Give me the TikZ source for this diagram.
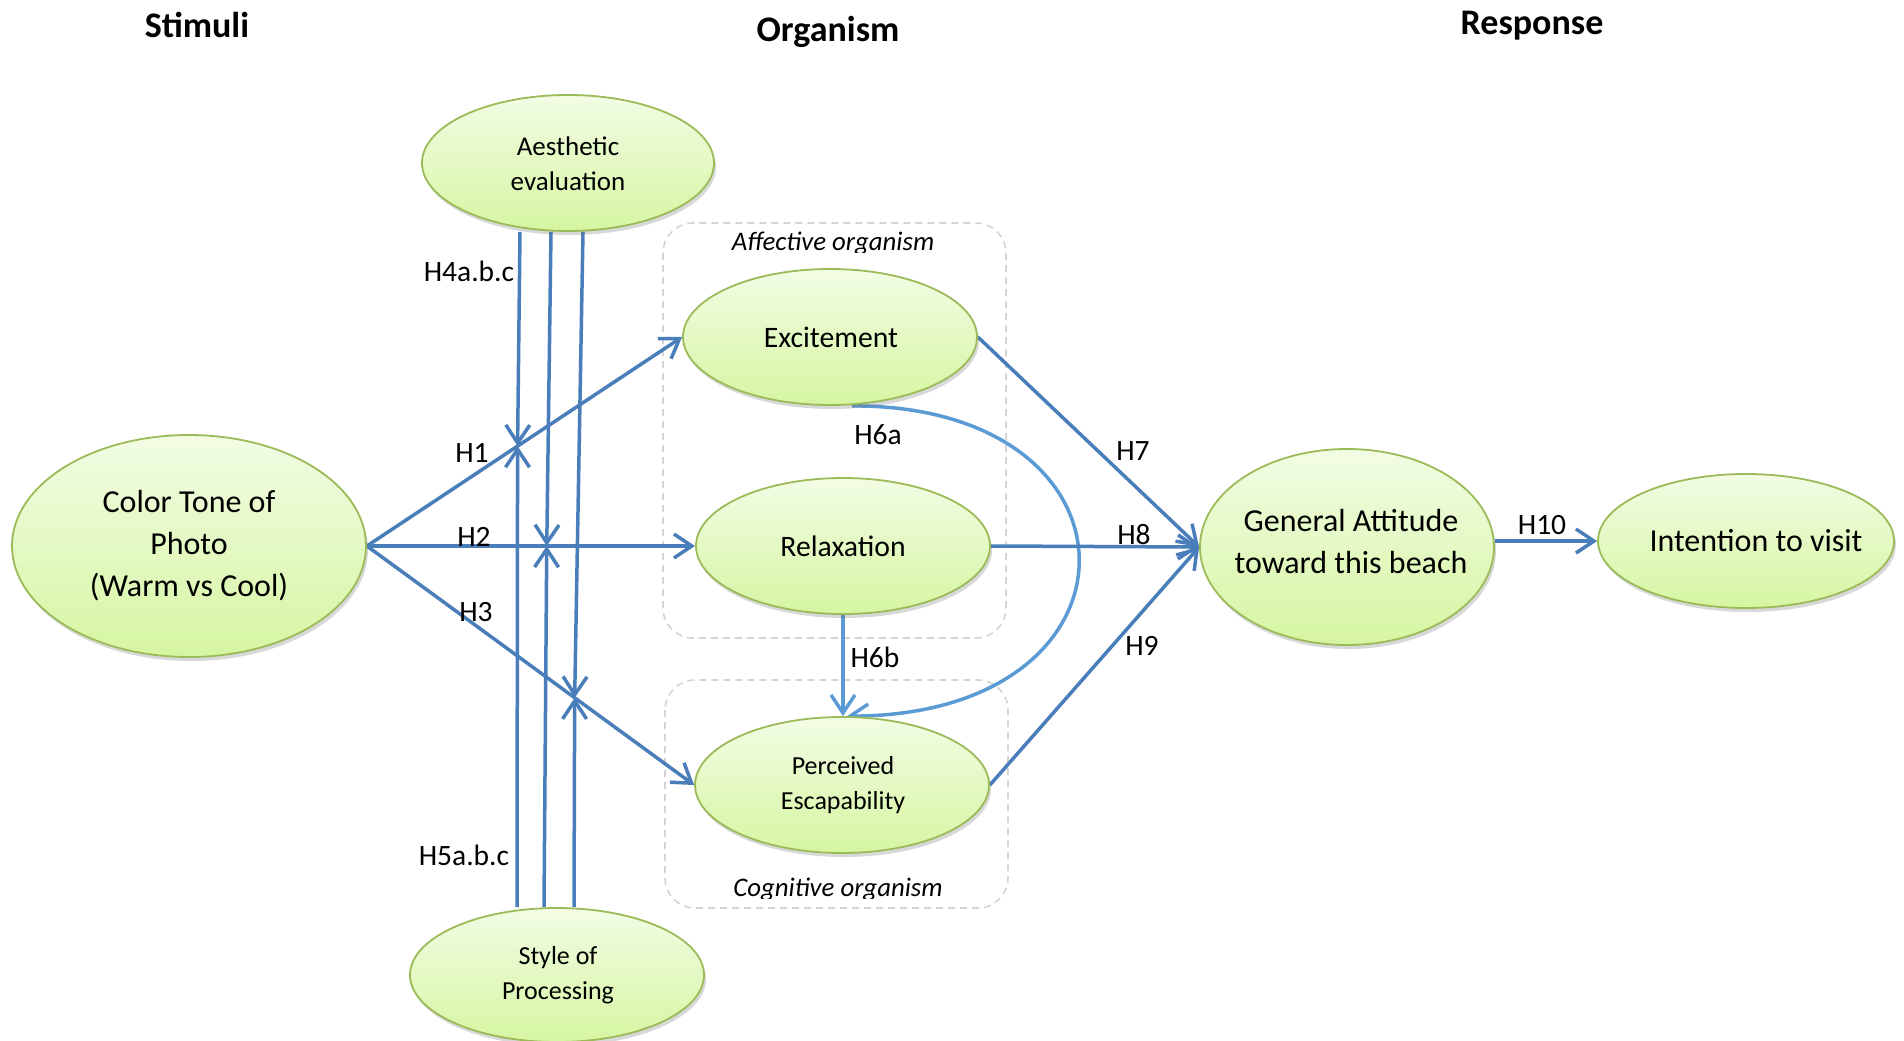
\documentclass[tikz,border=0pt]{standalone}
\usepackage{fontspec}
\setmainfont{Carlito}
\usetikzlibrary{shapes.geometric,arrows.meta,shadows,calc}
\definecolor{conn}{RGB}{74,126,187}
\definecolor{connlight}{RGB}{91,155,213}
\definecolor{ellborder}{RGB}{155,187,89}
\definecolor{elltop}{RGB}{242,252,228}
\definecolor{ellbot}{RGB}{214,246,162}
\definecolor{boxgray}{RGB}{212,212,212}
\pgfdeclarelayer{bg}
\pgfdeclarelayer{paper}
\pgfsetlayers{paper,bg,main}
\tikzset{
  ell/.style={ellipse, draw=ellborder, line width=1.8pt, top color=elltop, bottom color=ellbot, inner sep=0pt,
    drop shadow={shadow xshift=2pt, shadow yshift=-4pt, opacity=0.25, fill=black!60}},
  etxt/.style={align=center, inner sep=0pt},
  fs26/.style={font=\fontsize{26}{35}\selectfont},
  fs27/.style={font=\fontsize{27}{35}\selectfont},
  fs30/.style={font=\fontsize{29.7}{34}\selectfont},
  fs32/.style={font=\fontsize{32}{42}\selectfont},
  hlab/.style={font=\fontsize{29.5}{32}\selectfont, inner sep=1pt},
  ttl/.style={font=\fontsize{36}{40}\selectfont\bfseries},
  grp/.style={draw=boxgray, line width=1.6pt, rounded corners=30pt, dash pattern=on 7pt off 5pt},
  grplab/.style={font=\fontsize{26.8}{30}\selectfont\itshape, anchor=base},
  cn/.style={draw=conn, line width=3.5pt, -{Straight Barb[length=18pt,width=24pt,line width=3.5pt]}},
  cnl/.style={draw=connlight, line width=3.5pt, -{Straight Barb[length=18pt,width=24pt,line width=3.5pt]}},
}
\begin{document}
\begin{tikzpicture}[x=1pt,y=-1pt]
\useasboundingbox (0,0) rectangle (1904,1041);
\begin{pgfonlayer}{paper}
\fill[white] (0,0) rectangle (1904,1041);
\end{pgfonlayer}

% titles
\node[ttl] (tstim) at (197,25) {Stimuli};
\node[ttl] (torg) at (828,32) {Organism};
\node[ttl] (tresp) at (1532,26) {Response};

% group boxes
\begin{pgfonlayer}{paper}
\draw[grp] (663,223) rectangle (1006,638);
\draw[grp] (665,680) rectangle (1008,908);
\end{pgfonlayer}
\begin{scope}
\clip (680,215) rectangle (990,252.5);
\node[grplab] (laff) at (833,250) {Affective organism};
\end{scope}
\begin{scope}
\clip (680,870) rectangle (990,898.5);
\node[grplab] (lcog) at (838,896) {Cognitive organism};
\end{scope}

% ellipses
\node[ell, minimum width=354pt, minimum height=222pt] (cl) at (189,546) {};
\node[ell, minimum width=292pt, minimum height=136pt] (ae) at (568,163) {};
\node[ell, minimum width=294pt, minimum height=136pt] (exc) at (830,337) {};
\node[ell, minimum width=294pt, minimum height=136pt] (rel) at (843,546) {};
\node[ell, minimum width=294pt, minimum height=136pt] (pe) at (842,785) {};
\node[ell, minimum width=294pt, minimum height=134pt] (sp) at (557,975) {};
\node[ell, minimum width=294pt, minimum height=196pt] (ga) at (1347,547) {};
\node[ell, minimum width=296pt, minimum height=134pt] (iv) at (1746,541) {};

\node[etxt, fs32] (cl-t) at (189,546) {Color Tone of\\Photo\\(Warm vs Cool)};
\node[etxt, fs27] (ae-t) at (568,164) {Aesthetic\\evaluation};
\node[etxt, fs30] (exc-t) at (831,337) {Excitement};
\node[etxt, fs30] (rel-t) at (843,546) {Relaxation};
\node[etxt, fs26] (pe-t) at (843,785) {Perceived\\Escapability};
\node[etxt, fs26] (sp-t) at (558,975) {Style of\\Processing};
\node[etxt, fs32] (ga-t) at (1351,542) {General Attitude\\toward this beach};
\node[etxt, fs32] (iv-t) at (1756,541) {Intention to visit};

% crossing points
\coordinate (m1) at ($(cl.east)!0.478!(exc.west)$);
\coordinate (m2) at ($(cl.east)!0.548!(rel.west)$);
\coordinate (m3) at ($(cl.east)!0.635!(pe.west)$);
\coordinate (c6a1) at (1155,405);
\coordinate (c6a2) at (1155,716);

\begin{pgfonlayer}{bg}
\path[cn] (cl.east) -- (exc.west);
\path[cn] (cl.east) -- (rel.west);
\path[cn] (cl.east) -- (pe.west);
\path[cn] ([xshift=-48pt]ae.south) -- (m1);
\path[cn] ([xshift=-17pt]ae.south) -- (m2);
\path[cn] ([xshift=15pt]ae.south) -- (m3);
\path[cn] ([xshift=-40pt]sp.north) -- (m1);
\path[cn] ([xshift=-13pt]sp.north) -- (m2);
\path[cn] ([xshift=17pt]sp.north) -- (m3);
\path[cnl] ([xshift=22pt]exc.south) .. controls (c6a1) and (c6a2) .. ([xshift=5pt]pe.north);
\path[cnl] (rel.south) -- (rel.south |- pe.north);
\path[cn] (exc.east) -- (ga.west);
\path[cn] (rel.east) -- (ga.west);
\path[cn] (pe.east) -- (ga.west);
\path[cn] (ga.east |- iv.west) -- (iv.west);
\end{pgfonlayer}

% hypothesis labels
\node[hlab] (h4) at (469,271) {H4a.b.c};
\node[hlab] (h1) at (472,453) {H1};
\node[hlab] (h2) at (474,537) {H2};
\node[hlab] (h3) at (476,612) {H3};
\node[hlab] (h5) at (464,855) {H5a.b.c};
\node[hlab] (h6a) at (878,435) {H6a};
\node[hlab] (h6b) at (875,657) {H6b};
\node[hlab] (h7) at (1133,451) {H7};
\node[hlab] (h8) at (1134,535) {H8};
\node[hlab] (h9) at (1142,646) {H9};
\node[hlab] (h10) at (1542,525) {H10};
\end{tikzpicture}
\end{document}
